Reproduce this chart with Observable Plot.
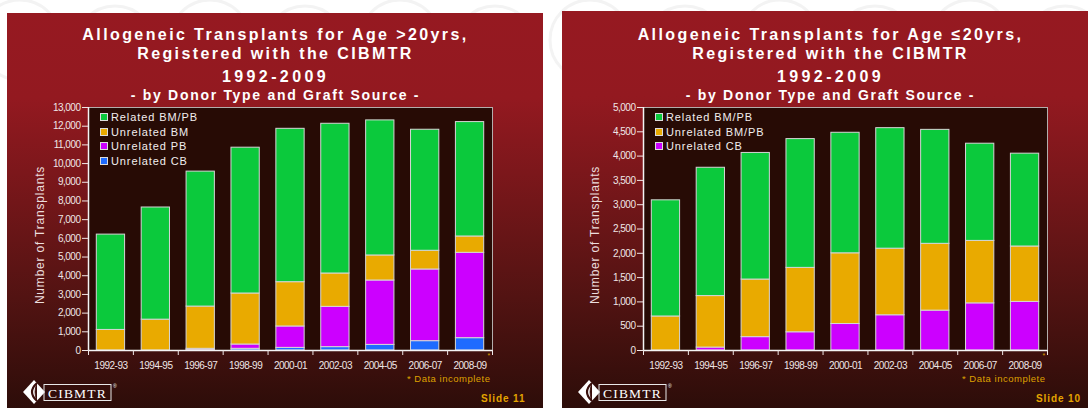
<!DOCTYPE html>
<html><head><meta charset="utf-8">
<script src="https://cdn.jsdelivr.net/npm/d3@7"></script>
<script src="https://cdn.jsdelivr.net/npm/@observablehq/plot@0.6"></script>
<style>
html,body{margin:0;padding:0;background:#fff;}
body{width:1088px;height:408px;position:relative;overflow:hidden;font-family:"Liberation Sans",Arial,sans-serif;}
.abs{position:absolute;white-space:nowrap;line-height:1;}
.slide{position:absolute;height:400px;background:linear-gradient(180deg,#961921 0px,#931920 85px,#7c171b 160px,#521312 285px,#2d0d09 395px);}
.title{color:#fff;font-weight:bold;font-size:16px;letter-spacing:2.4px;}
.sub{color:#fff;font-weight:bold;font-size:14px;letter-spacing:1.7px;}
.leg{color:#f2eeee;font-size:11px;letter-spacing:0.9px;}
.sw{position:absolute;width:6px;height:6px;border:1px solid #dcdcdc;}
.ylab{color:#ecdede;font-size:12px;letter-spacing:0.8px;}
.note{color:#dea000;font-size:9.5px;letter-spacing:0.5px;}
.star{color:#dea000;font-size:7px;}
.slno{color:#e4a400;font-size:10px;font-weight:bold;letter-spacing:0.9px;}
.chart{position:absolute;top:95px;}
</style></head><body>
<svg class="abs" style="left:0;top:0" width="1088" height="408" id="wm"></svg>
<div class="slide" style="left:7px;top:13px;width:536px"></div>
<div class="slide" style="left:562px;top:11px;width:530px"></div>
<script>
// ---------- data ----------
const periods = ["1992-93","1994-95","1996-97","1998-99","2000-01","2002-03","2004-05","2006-07","2008-09"];

// Age > 20 yrs (legend order, top of stack first)
const adultSeries = ["Related BM/PB","Unrelated BM","Unrelated PB","Unrelated CB"];
const adultColors = ["#0bc93c","#e9aa00","#cc00ff","#1f6bff"];
const adultRelated   = [5100, 6000, 7220, 7800, 8205, 8010, 7225, 6475, 6120];
const adultUnrelBM   = [1100, 1650, 2260, 2730, 2370, 1785, 1340, 1000,  875];
const adultUnrelPB   = [   0,    0,   70,  230, 1145, 2155, 3445, 3835, 4565];
const adultUnrelCB   = [   0,    0,   20,   90,  140,  180,  300,  500,  660];
const adultTicks = d3.range(0, 13001, 1000);

// Age <= 20 yrs
const childSeries = ["Related BM/PB","Unrelated BM/PB","Unrelated CB"];
const childColors = ["#0bc93c","#e9aa00","#cc00ff"];
const childRelated   = [2390, 2640, 2605, 2650, 2480, 2480, 2345, 2000, 1910];
const childUnrelBMPB = [ 700, 1060, 1185, 1325, 1455, 1370, 1375, 1285, 1140];
const childUnrelCB   = [   0,   60,  275,  375,  545,  725,  820,  970, 1000];
const childTicks = d3.range(0, 5001, 500);

// ---------- helpers ----------
function rowsOf(seriesNames, arrays) {
  const rows = [];
  for (let s = seriesNames.length - 1; s >= 0; s--) {
    periods.forEach((p, i) => {
      if (arrays[s][i] > 0) rows.push({i, i1: i + 1, period: p, series: seriesNames[s], value: arrays[s][i]});
    });
  }
  return rows;
}

function chart({rows, seriesNames, colors, yMax, yTicks, width}) {
  return Plot.plot({
    width, height: 290,
    marginLeft: 81, marginRight: width - 81 - 404, marginTop: 12, marginBottom: 35,
    style: {background: "transparent", color: "#efe6e6", fontFamily: "'Liberation Sans', Arial, sans-serif", fontSize: "10px", letterSpacing: "-0.5px", overflow: "visible"},
    x: {domain: [0, periods.length]},
    y: {domain: [0, yMax]},
    color: {domain: seriesNames, range: colors},
    marks: [
      Plot.frame({fill: "#270b05", stroke: "#b3aeac"}),
      Plot.rectY(rows, {x1: "i", x2: "i1", y: "value", fill: "series", stroke: "#d6d6d6", strokeWidth: 1,
        insetLeft: 8.3, insetRight: 8.3, order: [...seriesNames].reverse()}),
      Plot.ruleX([0], {stroke: "#f4f4f4", strokeWidth: 1.5}),
      Plot.ruleY([0], {stroke: "#f4f4f4", strokeWidth: 1.5}),
      Plot.axisY({ticks: yTicks, tickFormat: d3.format(","), tickSize: 6, tickPadding: 2, label: null}),
      Plot.axisX({ticks: d3.range(periods.length + 1), tickFormat: () => "", tickSize: 5, label: null}),
      Plot.axisX({ticks: periods.map((p, i) => i + 0.5), tickFormat: d => periods[Math.floor(d)], tickSize: 0, tickPadding: 11, label: null})
    ]
  });
}

function txt(x, y, str, cls, anchor = "middle", extra = "") {
  const d = document.createElement("div");
  d.className = "abs " + cls;
  d.textContent = str;
  const tx = anchor === "middle" ? "-50%" : anchor === "end" ? "-100%" : "0";
  d.style.cssText += `left:${x}px;top:${y}px;transform:translate(${tx},-50%) ${extra};`;
  document.body.appendChild(d);
  return d;
}

function logo(x0, y0) {
  const ns = "http://www.w3.org/2000/svg";
  const s = document.createElementNS(ns, "svg");
  s.setAttribute("width", 100); s.setAttribute("height", 30);
  s.setAttribute("class", "abs");
  s.style.left = x0 + "px"; s.style.top = y0 + "px";
  s.innerHTML = `
    <polygon points="11,1 22,13 11,25 0,13" fill="#fff"/>
    <path d="M14,4 Q4,13 14,22" stroke="#3a0f0c" stroke-width="2.2" fill="none"/>
    <path d="M14,4 Q10,13 14,22" stroke="#3a0f0c" stroke-width="0.8" fill="#3a0f0c"/>
    <rect x="21" y="5.5" width="67" height="16" fill="none" stroke="#e8e8e8" stroke-width="1"/>
    <text x="54.5" y="18.5" text-anchor="middle" fill="#fff" font-family="'Liberation Serif','DejaVu Serif',serif" font-size="13.5" letter-spacing="1.2">CIBMTR</text>
    <text x="90" y="9" fill="#fff" font-size="5" font-family="Arial">®</text>`;
  document.body.appendChild(s);
}

// watermark circles on white page
(function () {
  const wm = document.getElementById("wm");
  let h = "";
  for (let k = 0; k < 12; k++) {
    const cx = 20 + k * 95;
    h += `<circle cx="${cx}" cy="${k % 2 ? 46 : 40}" r="40" fill="none" stroke="#f3f3f3" stroke-width="3"/>`;
  }
  wm.innerHTML = h;
})();

// ---------- build both slides ----------
const slides = [
  {dx: 0, svgLeft: 7, width: 536,
   title1: "Allogeneic Transplants for Age >20yrs,", slideNo: "Slide 11",
   seriesNames: adultSeries, colors: adultColors,
   arrays: [adultRelated, adultUnrelBM, adultUnrelPB, adultUnrelCB], yMax: 13000, yTicks: adultTicks},
  {dx: 555, svgLeft: 562, width: 526,
   title1: "Allogeneic Transplants for Age \u226420yrs,", slideNo: "Slide 10",
   seriesNames: childSeries, colors: childColors,
   arrays: [childRelated, childUnrelBMPB, childUnrelCB], yMax: 5000, yTicks: childTicks}
];

for (const s of slides) {
  const cx = 275.5 + s.dx;
  txt(cx, 35, s.title1, "title");
  txt(cx, 54, "Registered with the CIBMTR", "title");
  txt(cx, 77, "1992-2009", "title", "middle", "");
  txt(cx, 95, "- by Donor Type and Graft Source -", "sub");

  const el = chart({rows: rowsOf(s.seriesNames, s.arrays), seriesNames: s.seriesNames, colors: s.colors,
                    yMax: s.yMax, yTicks: s.yTicks, width: s.width});
  el.classList.add("chart");
  el.style.left = s.svgLeft + "px";
  document.body.appendChild(el);

  // legend
  s.seriesNames.forEach((name, k) => {
    const y = 117 + k * 14.5;
    const sw = document.createElement("div");
    sw.className = "sw";
    sw.style.left = (100 + s.dx) + "px"; sw.style.top = (y - 4) + "px";
    sw.style.background = s.colors[k];
    document.body.appendChild(sw);
    txt(111 + s.dx, y, name, "leg", "start");
  });

  // y axis title
  txt(40 + s.dx, 235, "Number of Transplants", "ylab", "middle", "rotate(-90deg)");

  // notes
  txt(487.5 + s.dx, 354.5, "*", "star", "start");
  txt(407 + s.dx, 379, "* Data incomplete", "note", "start");
  txt(481 + s.dx, 399, s.slideNo, "slno", "start");
  logo(23 + s.dx, 379);
}
document.querySelectorAll(".title").forEach(d => { if (d.textContent === "1992-2009") d.style.letterSpacing = "3.4px"; });
</script>
</body></html>
